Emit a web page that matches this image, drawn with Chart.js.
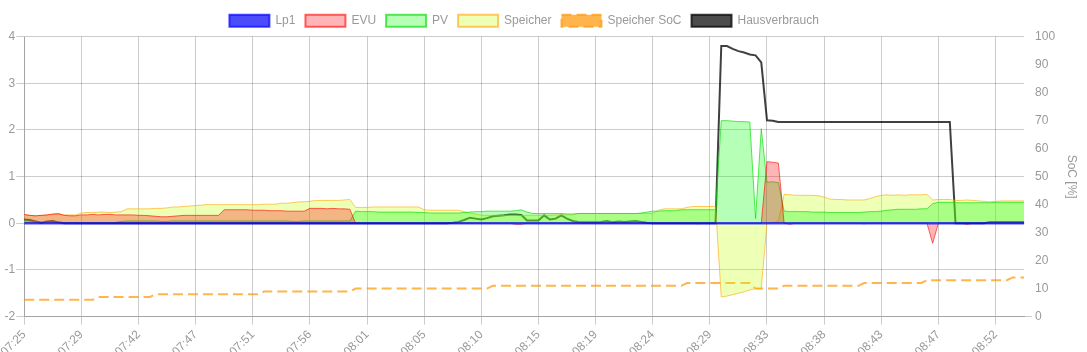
<!DOCTYPE html>
<html><head><meta charset="utf-8">
<script src="https://cdn.jsdelivr.net/npm/chart.js@4.4.1/dist/chart.umd.min.js"></script>
<style>html,body{margin:0;padding:0;background:#fff;overflow:hidden;}#wrap{width:1087px;height:352px;position:relative;overflow:hidden;}</style>
</head><body><div id="wrap"><canvas id="c"></canvas></div>
<script>
const timeLabels = [
"07:25","07:25","07:26","07:26","07:27","07:27","07:27","07:28","07:28","07:28",
"07:29","07:29","07:30","07:30","07:31","07:38","07:39","07:40","07:40","07:41",
"07:42","07:42","07:43","07:43","07:44","07:44","07:45","07:45","07:46","07:46",
"07:47","07:47","07:48","07:48","07:49","07:49","07:49","07:50","07:50","07:50",
"07:51","07:51","07:52","07:52","07:53","07:53","07:54","07:54","07:55","07:55",
"07:56","07:56","07:57","07:57","07:58","07:58","07:59","07:59","08:00","08:00",
"08:01","08:01","08:02","08:02","08:03","08:03","08:03","08:04","08:04","08:04",
"08:05","08:05","08:06","08:06","08:07","08:07","08:08","08:08","08:09","08:09",
"08:10","08:10","08:11","08:11","08:12","08:12","08:13","08:13","08:14","08:14",
"08:15","08:15","08:16","08:16","08:17","08:17","08:17","08:18","08:18","08:18",
"08:19","08:19","08:20","08:20","08:21","08:21","08:22","08:22","08:23","08:23",
"08:24","08:24","08:25","08:25","08:26","08:26","08:27","08:27","08:28","08:28",
"08:29","08:29","08:30","08:30","08:31","08:31","08:31","08:32","08:32","08:32",
"08:33","08:33","08:34","08:34","08:35","08:35","08:36","08:36","08:37","08:37",
"08:38","08:38","08:39","08:39","08:40","08:40","08:41","08:41","08:42","08:42",
"08:43","08:43","08:44","08:44","08:45","08:45","08:45","08:46","08:46","08:46",
"08:47","08:47","08:48","08:48","08:49","08:49","08:50","08:50","08:51","08:51",
"08:52","08:52","08:53","08:53","08:54","08:54"
];

const lp1 = [
0,0,0,0,0,0,0,0,0,0, 0,0,0,0,0,0,0,0,0,0, 0,0,0,0,0,0,0,0,0,0,
0,0,0,0,0,0,0,0,0,0, 0,0,0,0,0,0,0,0,0,0, 0,0,0,0,0,0,0,0,0,0,
0,0,0,0,0,0,0,0,0,0, 0,0,0,0,0,0,0,0,0,0, 0,0,0,0,0,0,0,0,0,0,
0,0,0,0,0,0,0,0,0,0, 0,0,0,0,0,0,0,0,0,0, 0,0,0,0,0,0,0,0,0,0,
0,0,0,0,0,0,0,0,0,0, 0,0,0,0,0,0,0,0,0,0, 0,0,0,0,0,0,0,0,0,0,
0,0,0,0,0,0,0,0,0,0, 0,0,0,0,0,0,0,0,0,0, 0,0,0,0,0,0
];

const evu = [
0.19,0.17,0.16,0.17,0.18,0.20,0.21,0.17,0.16,0.16,
0.18,0.18,0.19,0.18,0.19,0.19,0.18,0.18,0.18,0.18,
0.17,0.17,0.16,0.15,0.14,0.14,0.15,0.16,0.17,0.17,
0.17,0.17,0.17,0.17,0.17,0.29,0.29,0.29,0.29,0.29,
0.28,0.28,0.28,0.27,0.27,0.27,0.26,0.26,0.26,0.26,
0.32,0.32,0.32,0.31,0.32,0.31,0.31,0.30,0.00,0.00,
0,0,0,0,0,0,0,0,0,0,
0,0,0,0,0,0,0,0,0,0,
0,0,0,0,0,0,-0.02,-0.02,0,0,
0,0,0,0,0,0,0,0,0,0,
0,0,0,0,0,0,0,0,0,0,
0,0,0,0,0,0,0,0,-0.01,0,
0,0,0,0,0,0,0,0,0,0,
1.32,1.31,1.29,0,-0.02,0,0,0,0,0,
0,0,0,0,0,0,0,-0.01,0,0,
0,0,0,0,0,0,0,0,0,-0.43,
0,0,0,0,0,-0.02,0,0,0,0,
0,0,0,0,0,0
];

const pv = [
0.06,0.05,0.04,0.02,0.01,0.01,0.01,0.01,0.01,0.01,
0.01,0.01,0.01,0.01,0.01,0.01,0.02,0.04,0.05,0.05,
0.05,0.05,0.05,0.05,0.04,0.04,0.05,0.05,0.05,0.05,
0.05,0.05,0.05,0.05,0.05,0.05,0.05,0.05,0.05,0.05,
0.05,0.05,0.05,0.05,0.05,0.05,0.05,0.04,0.04,0.05,
0.05,0.05,0.05,0.05,0.05,0.05,0.05,0.05,0.26,0.25,
0.25,0.25,0.24,0.24,0.24,0.24,0.24,0.24,0.24,0.23,
0.23,0.22,0.22,0.22,0.22,0.22,0.22,0.23,0.24,0.25,
0.25,0.26,0.26,0.26,0.26,0.26,0.27,0.29,0.24,0.21,
0.21,0.21,0.21,0.21,0.21,0.20,0.20,0.21,0.21,0.21,
0.21,0.21,0.21,0.21,0.21,0.21,0.21,0.21,0.22,0.24,
0.26,0.26,0.27,0.27,0.27,0.29,0.29,0.29,0.29,0.29,
0.29,0.29,2.20,2.20,2.19,2.18,2.18,2.17,0.10,2.03,
0.88,0.89,0.87,0.26,0.25,0.25,0.25,0.25,0.24,0.24,
0.24,0.23,0.23,0.23,0.23,0.23,0.23,0.24,0.25,0.25,
0.26,0.28,0.29,0.30,0.30,0.30,0.30,0.31,0.31,0.42,
0.45,0.45,0.45,0.44,0.44,0.44,0.44,0.44,0.44,0.44,
0.45,0.45,0.45,0.45,0.45,0.45
];

const speicher = [
0.18,0.17,0.16,0.17,0.18,0.19,0.19,0.18,0.18,0.18,
0.22,0.23,0.23,0.24,0.24,0.23,0.24,0.25,0.31,0.31,
0.31,0.31,0.31,0.32,0.32,0.33,0.35,0.35,0.36,0.37,
0.38,0.39,0.40,0.40,0.40,0.40,0.40,0.40,0.40,0.40,
0.40,0.40,0.41,0.41,0.41,0.43,0.43,0.44,0.46,0.46,
0.47,0.49,0.49,0.49,0.49,0.49,0.50,0.51,0.34,0.34,
0.34,0.35,0.35,0.35,0.35,0.35,0.35,0.35,0.35,0.35,
0.29,0.28,0.28,0.28,0.28,0.28,0.28,0.25,0.22,0.20,
0.17,0.17,0.17,0.17,0.17,0.17,0.17,0.17,0.17,0.17,
0.17,0.17,0.17,0.18,0.18,0.18,0.18,0.21,0.21,0.21,
0.21,0.21,0.21,0.21,0.21,0.21,0.21,0.21,0.21,0.21,
0.21,0.28,0.31,0.31,0.31,0.31,0.34,0.36,0.36,0.36,
0.36,0.36,-1.58,-1.56,-1.53,-1.50,-1.47,-1.43,-1.40,-1.40,
0.00,0.00,0.05,0.62,0.61,0.60,0.60,0.60,0.60,0.59,
0.56,0.52,0.51,0.51,0.50,0.50,0.50,0.50,0.53,0.57,
0.60,0.61,0.60,0.61,0.60,0.61,0.61,0.61,0.62,0.50,
0.51,0.51,0.51,0.49,0.49,0.50,0.49,0.48,0.47,0.46,
0.47,0.48,0.48,0.48,0.48,0.48
];

const socPercent = [
6,6,6,6,6,6,6,6,6,6,
6,6,6,7,7,7,7,7,7,7,
7,7,7,8,8,8,8,8,8,8,
8,8,8,8,8,8,8,8,8,8,
8,8,9,9,9,9,9,9,9,9,
9,9,9,9,9,9,9,9,10,10,
10,10,10,10,10,10,10,10,10,10,
10,10,10,10,10,10,10,10,10,10,
10,10,11,11,11,11,11,11,11,11,
11,11,11,11,11,11,11,11,11,11,
11,11,11,11,11,11,11,11,11,11,
11,11,11,11,11,11,12,12,12,12,
12,12,12,12,12,12,12,12,10,10,
10,10,10,11,11,11,11,11,11,11,
11,11,11,11,11,11,11,12,12,12,
12,12,12,12,12,12,12,12,13,13,
13,13,13,13,13,13,13,13,13,13,
13,13,13,14,14,14
];

const hausverbrauch = [
0.08,0.07,0.04,0.01,0.04,0.05,0.02,0,0,0,
0,0,0,0,0,0,0,0,0,0,
0,0,0,0,0,0,0,0,0,0,
0,0,0,0,0,0,0,0,0,0,
0,0,0,0,0,0,0,0,0,0,
0,0,0,0,0,0,0,0,0,0,
0,0,0,0,0,0,0,0,0,0,
0,0,0,0,0,0.01,0.03,0.07,0.12,0.10,
0.08,0.11,0.15,0.16,0.17,0.19,0.19,0.18,0.06,0.06,
0.06,0.17,0.08,0.10,0.17,0.10,0.05,0.03,0.02,0.02,
0.02,0.03,0.05,0.02,0.04,0.03,0.04,0.05,0.03,0.01,
0,0,0,0,0,0,0,0,0,0,
0,0,3.80,3.80,3.74,3.69,3.66,3.62,3.60,3.45,
2.21,2.20,2.17,2.17,2.17,2.17,2.17,2.17,2.17,2.17,
2.17,2.17,2.17,2.17,2.17,2.17,2.17,2.17,2.17,2.17,
2.17,2.17,2.17,2.17,2.17,2.17,2.17,2.17,2.17,2.17,
2.17,2.17,2.17,0,0,0,0,0,0,0.03,
0.03,0.03,0.03,0.03,0.03,0.03
];

const LABEL_EVERY = 10;
const GRID = 'rgba(0,0,0,0.2)';

Chart.defaults.font.family = "Arial, 'Liberation Sans', Helvetica, sans-serif";
Chart.defaults.font.size = 12;
Chart.defaults.color = '#999';

new Chart(document.getElementById('c'), {
  type: 'line',
  data: {
    labels: timeLabels,
    datasets: [
      {label:'Lp1', data: lp1, borderColor:'rgba(0,0,255,0.7)', backgroundColor:'rgba(0,0,255,0.7)', borderWidth:2.5, fill:false, yAxisID:'y'},
      {label:'EVU', data: evu, borderColor:'rgba(255,0,0,0.6)', backgroundColor:'rgba(255,10,13,0.3)', borderWidth:1, fill:'origin', yAxisID:'y'},
      {label:'PV', data: pv, borderColor:'rgba(0,220,0,0.65)', backgroundColor:'rgba(10,255,13,0.3)', borderWidth:1, fill:'origin', yAxisID:'y'},
      {label:'Speicher', data: speicher, borderColor:'rgba(255,165,0,0.6)', backgroundColor:'rgba(200,255,13,0.3)', borderWidth:1, fill:'origin', yAxisID:'y'},
      {label:'Speicher SoC', data: socPercent, borderColor:'rgba(255,150,0,0.7)', backgroundColor:'rgba(255,150,0,0.7)', borderWidth:2, borderDash:[10,5], fill:false, yAxisID:'y2'},
      {label:'Hausverbrauch', data: hausverbrauch, borderColor:'rgba(0,0,0,0.75)', backgroundColor:'rgba(0,0,0,0.7)', borderWidth:2, fill:false, yAxisID:'y'}
    ]
  },
  options: {
    responsive: true,
    maintainAspectRatio: false,
    animation: false,
    layout: {padding: {right: 4, top: 4.7, bottom: -10, left: 0}},
    elements: {point: {radius: 0, hoverRadius: 0}, line: {tension: 0}},
    plugins: {
      tooltip: {enabled: false},
      legend: {
        position: 'top',
        fullSize: false,
        labels: {
          boxWidth: 40, boxHeight: 12, padding: 10, color: '#999',
          generateLabels: (chart) => Chart.defaults.plugins.legend.labels.generateLabels(chart).map(l => Object.assign(l, {lineWidth: 2}))
        }
      }
    },
    scales: {
      x: {
        type: 'category',
        ticks: {
          autoSkip: false, minRotation: 45, maxRotation: 45, padding: 3,
          callback: (v, i) => (i % LABEL_EVERY === 0 ? timeLabels[i] : '')
        },
        grid: {
          color: (ctx) => (ctx.index % LABEL_EVERY === 0 ? GRID : 'rgba(0,0,0,0)'),
          tickLength: 8
        },
        border: {color: GRID}
      },
      y: {
        position: 'left', min: -2, max: 4,
        ticks: {stepSize: 1, padding: 1},
        grid: {color: GRID, tickLength: 8},
        border: {color: GRID}
      },
      y2: {
        position: 'right', min: 0, max: 100,
        ticks: {stepSize: 10, padding: 3},
        grid: {drawOnChartArea: false, tickLength: 8, color: (ctx) => (ctx.tick && ctx.tick.value === 0 ? GRID : 'rgba(0,0,0,0)')},
        border: {display: false},
        title: {display: true, text: 'SoC [%]', color: '#999', padding: {top: 4, bottom: 6.5}}
      }
    }
  }
});
</script>
</body></html>
